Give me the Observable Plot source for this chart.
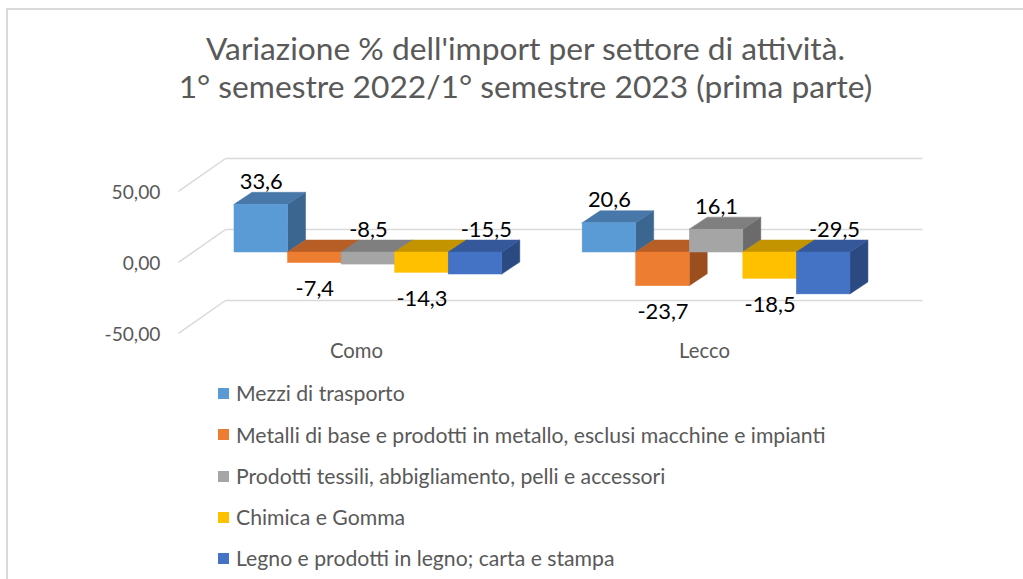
<!DOCTYPE html>
<html>
<head>
<meta charset="utf-8">
<script src="https://cdn.jsdelivr.net/npm/d3@7"></script>
<script src="https://cdn.jsdelivr.net/npm/@observablehq/plot@0.6"></script>
<style>
  html, body { margin: 0; padding: 0; background: #fff; }
  body { width: 1023px; height: 579px; overflow: hidden; position: relative; font-family: Lato, "Open Sans", sans-serif; }
  #frame { position: absolute; left: 6px; top: 8px; width: 1030px; height: 590px; border-top: 2px solid #d9d9d9; border-left: 2px solid #d9d9d9; }
  .tline { position: absolute; left: 25px; width: 1001px; text-align: center; color: #595959; white-space: nowrap; }
  #chart { position: absolute; left: 0; top: 130px; }
  .leg { position: absolute; left: 218px; height: 24px; display: flex; align-items: center; color: #595959; white-space: nowrap; }
  .leg i { display: inline-block; width: 11px; height: 11px; margin-right: 7px; }
</style>
</head>
<body>
<div id="frame"></div>
<div id="t1" class="tline"></div>
<div id="t2" class="tline"></div>
<div id="chart"></div>
<div id="legend"></div>
<script>
// ---- data ----
const titleLines = ["Variazione % dell'import per settore di attività.", "1° semestre 2022/1° semestre 2023 (prima parte)"];
const cities = ["Como", "Lecco"];
const series = [
  "Mezzi di trasporto",
  "Metalli di base e prodotti in metallo, esclusi macchine e impianti",
  "Prodotti tessili, abbigliamento, pelli e accessori",
  "Chimica e Gomma",
  "Legno e prodotti in legno; carta e stampa"
];
const valuesComo  = [33.6, -7.4, -8.5, -14.3, -15.5];
const valuesLecco = [20.6, -23.7, 16.1, -18.5, -29.5];
const yTicks = [-50, 0, 50];
const frontColors = ["#5B9BD5", "#ED7D31", "#A5A5A5", "#FFC000", "#4472C4"];
const topColors   = ["#4878AA", "#B65E26", "#7F7F7F", "#C39300", "#34589A"];
const sideColors  = ["#3A6690", "#9C4F1E", "#6B6B6B", "#A67C00", "#2C4A82"];
const labelAtTop  = [false, false, true, false, true];

// ---- layout constants ----
const FONT = "Lato";
const groupStep = 6.5;            // bars per category + gap
const DX = 0.336, DY = 8.45;      // bar depth (x units, y units)
const backDY = 16.2, frontDY = -7.0;   // wall depth offsets (y units)
const wallFrontX = -1.046, wallBackX0 = -0.168, wallBackX1 = 12.845;

const ctx = document.createElement("canvas").getContext("2d");
function fit(text, target) { ctx.font = `400 100px ${FONT}`; return 100 * target / ctx.measureText(text).width; }

const titleSize = Math.min(fit(titleLines[0], 665), fit(titleLines[1], 694));
const valueSize = fit("33,6", 43);
const ySize = fit("-50,00", 56);
const catSize = fit("Como", 53);
const legSize = fit(series[1], 590);

// title
[["t1", 50], ["t2", 88]].forEach(([id, cy], i) => {
  const el = document.getElementById(id);
  el.textContent = titleLines[i];
  el.style.fontSize = titleSize + "px";
  el.style.lineHeight = titleSize + "px";
  el.style.top = (cy - titleSize / 2 - 1) + "px";
});

// ---- derived tables ----
const bars = [];
cities.forEach((c, ci) => {
  const vals = ci === 0 ? valuesComo : valuesLecco;
  vals.forEach((v, si) => {
    const x0 = ci * groupStep + si;
    bars.push({ id: ci * 10 + si, si, v, x0, x1: x0 + 1, lo: Math.min(v, 0), hi: Math.max(v, 0) });
  });
});
const sidePts = bars.flatMap(b => [
  { id: b.id, x: b.x1, y1: b.lo, y2: b.hi, c: sideColors[b.si] },
  { id: b.id, x: b.x1 + DX, y1: b.lo + DY, y2: b.hi + DY, c: sideColors[b.si] }
]);
const topPts = bars.flatMap(b => [
  { id: b.id, y: b.hi, x1: b.x0, x2: b.x1, c: topColors[b.si] },
  { id: b.id, y: b.hi + DY, x1: b.x0 + DX, x2: b.x1 + DX, c: topColors[b.si] }
]);
const fmt1 = v => v.toFixed(1).replace(".", ",");
const fmt2 = v => v.toFixed(2).replace(".", ",");
const above = b => b.v > 0 || labelAtTop[b.si];
// labels resting on a negative bar's top face sit a little toward the back, as in Excel
const aboveX = b => (b.x0 + b.x1) / 2 + (b.v < 0 && b.si === 4 ? DX * 0.6 : 0);

const plot = Plot.plot({
  width: 1023, height: 240,
  marginLeft: 159, marginRight: 82, marginTop: 15.5, marginBottom: 11.5,
  x: { domain: [-1.4, 13.2], axis: null },
  y: { domain: [-75, 75], axis: null },
  color: { type: "identity" },
  style: { fontFamily: FONT, background: "transparent", overflow: "visible" },
  marks: [
    Plot.link(yTicks, { x1: () => wallBackX0, x2: () => wallBackX1, y1: d => d + backDY, y2: d => d + backDY, stroke: "#d9d9d9", strokeWidth: 1.5 }),
    Plot.link(yTicks, { x1: () => wallFrontX, y1: d => d + frontDY, x2: () => wallBackX0, y2: d => d + backDY, stroke: "#d9d9d9", strokeWidth: 1.5 }),
    Plot.text(yTicks, { x: () => wallFrontX, y: d => d + frontDY, text: fmt2, textAnchor: "end", dx: -18, dy: 1, fill: "#595959", fontSize: ySize }),
    Plot.areaY(sidePts, { x: "x", y1: "y1", y2: "y2", z: "id", fill: "c", stroke: "c", strokeWidth: 0.5 }),
    Plot.areaX(topPts, { y: "y", x1: "x1", x2: "x2", z: "id", fill: "c", stroke: "c", strokeWidth: 0.5 }),
    Plot.rect(bars, { x1: "x0", x2: "x1", y1: "lo", y2: "hi", fill: b => frontColors[b.si], stroke: b => frontColors[b.si], strokeWidth: 0.5 }),
    Plot.text(bars.filter(above), { x: aboveX, y: b => b.hi + DY, text: b => fmt1(b.v), dy: -11, fill: "#000", fontSize: valueSize }),
    Plot.text(bars.filter(b => !above(b)), { x: b => (b.x0 + b.x1) / 2, y: b => b.lo, text: b => fmt1(b.v), dy: 26, fill: "#000", fontSize: valueSize }),
    Plot.text(cities, { x: (d, i) => i * groupStep + 2.5, text: d => d, frameAnchor: "bottom", dx: -12, dy: -1, fill: "#595959", fontSize: catSize })
  ]
});
document.getElementById("chart").appendChild(plot);

// legend
const legend = document.getElementById("legend");
const legCenters = [393, 434.5, 476, 517, 558];
series.forEach((s, i) => {
  const row = document.createElement("div");
  row.className = "leg";
  row.style.top = (legCenters[i] - 12) + "px";
  row.style.fontSize = legSize + "px";
  const sw = document.createElement("i");
  sw.style.background = frontColors[i];
  row.appendChild(sw);
  row.appendChild(document.createTextNode(s));
  legend.appendChild(row);
});
</script>
</body>
</html>
